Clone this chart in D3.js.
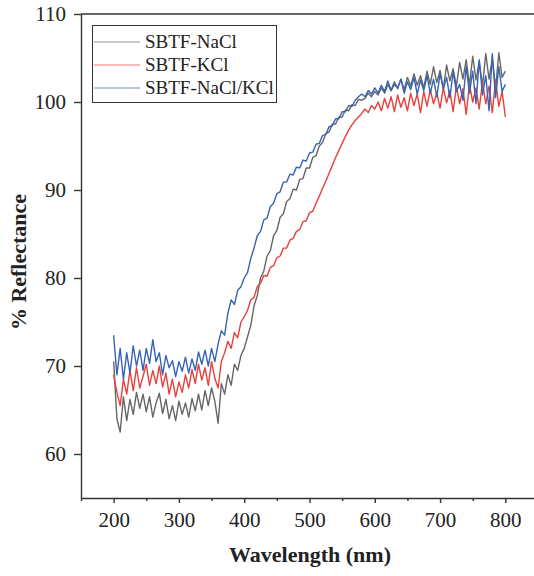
<!DOCTYPE html>
<html>
<head>
<meta charset="utf-8">
<script src="https://cdn.jsdelivr.net/npm/d3@7"></script>
<style>
  body { margin: 0; background: #fff; }
  svg { display: block; }
  .axis text { font-family: "Liberation Serif", "Times New Roman", serif; font-size: 21px; fill: #222; }
  .axis path, .axis line { stroke: #333; stroke-width: 1.4; }
  .title { font-family: "Liberation Serif", "Times New Roman", serif; font-size: 22px; font-weight: bold; fill: #222; }
  .legend text { font-family: "Liberation Serif", "Times New Roman", serif; font-size: 19px; fill: #222; }
</style>
</head>
<body>
<div id="chart"></div>
<script>
// wavelength grid (nm), one reading every 5 nm
var wavelengths = d3.range(200, 801, 5);

var seriesNames = ["SBTF-NaCl", "SBTF-KCl", "SBTF-NaCl/KCl"];
var seriesColors = ["#666666", "#e8403d", "#3663b3"];

var nacl = [
  70.5, 64.0, 62.5, 66.5, 63.8, 66.2, 64.5, 67.0, 65.2, 66.8,
  64.8, 66.5, 64.2, 65.8, 66.9, 64.6, 66.2, 64.0, 65.5, 63.8,
  66.0, 64.5, 65.8, 64.2, 66.3, 64.9, 66.8, 65.0, 67.2, 65.5,
  67.5, 66.0, 63.5, 68.0, 66.8, 69.0, 67.8, 70.2, 69.5, 71.2,
  72.0, 73.3, 74.6, 76.8, 78.0, 80.0, 80.8, 82.5, 83.1, 84.8,
  85.4, 86.9, 87.3, 88.7, 89.0, 90.1, 90.0, 91.2, 91.3, 92.5,
  92.5, 93.7, 93.9, 95.0, 95.4, 96.4, 96.6, 97.5, 97.5, 98.3,
  98.3, 99.1, 99.0, 99.7, 99.6, 100.3, 100.2, 100.4, 101.0, 100.6,
  101.2, 100.8, 101.6, 101.0, 102.0, 101.3, 102.3, 101.5, 102.6, 101.4,
  102.8, 101.8, 103.2, 101.9, 103.0, 101.6, 103.5, 102.0, 104.0, 102.2,
  103.6, 101.5, 104.2, 102.4, 103.8, 101.8, 104.5, 102.6, 104.8, 101.9,
  105.2, 102.5, 104.6, 101.8, 105.5, 102.6, 104.9, 101.5, 105.6, 102.8,
  103.5
];

var kcl = [
  69.0, 67.0, 65.5, 68.5, 66.8, 69.5, 67.2, 69.8, 67.5, 68.8,
  70.2, 67.8, 69.5, 68.0, 70.0, 67.6, 69.2, 66.8, 68.5, 66.5,
  68.2, 67.0, 69.0, 67.5, 69.6, 68.0, 70.2, 68.4, 69.8, 67.8,
  70.5, 68.6, 67.5, 70.5, 71.5, 72.8, 72.0, 73.8, 73.2, 75.0,
  75.6, 76.3, 77.5, 77.8, 79.0, 79.4, 80.3, 80.2, 81.2, 81.4,
  82.3, 82.5, 83.4, 83.4, 84.3, 84.5, 85.3, 85.5, 86.4, 86.5,
  87.4, 87.6, 88.5, 89.3, 90.2, 91.0, 91.9, 92.8, 93.7, 94.5,
  95.3, 96.1, 96.8, 97.4, 97.9, 98.3, 98.7, 99.2, 98.8, 99.6,
  99.2, 100.0, 99.0, 100.4, 99.3, 100.6, 98.9, 100.8, 99.4, 100.5,
  99.0, 101.0, 99.6, 100.9, 98.8, 101.2, 99.5, 101.4, 99.8, 101.0,
  99.3, 101.6, 99.9, 101.3, 98.9, 101.8, 99.8, 101.5, 98.6, 102.0,
  100.0, 101.6, 99.2, 102.3, 99.8, 101.8, 98.8, 102.5, 99.5, 101.2,
  98.3
];

var naclKcl = [
  73.5, 69.0, 72.0, 68.5, 71.5, 69.2, 72.3, 70.0, 71.8, 69.5,
  72.0, 70.3, 73.0, 70.5, 71.5, 69.0, 71.2, 69.8, 70.6, 68.8,
  70.5, 69.4, 71.0, 69.2, 70.8, 69.5, 71.6, 70.2, 71.8, 70.0,
  72.0, 70.5, 72.5, 74.0, 73.5, 76.0, 77.5, 77.0, 78.6, 79.0,
  80.0, 80.6, 82.2, 83.4, 84.8, 85.3, 86.6, 86.8, 88.1, 88.5,
  89.6, 89.8, 90.9, 90.9, 91.8, 91.7, 92.6, 92.5, 93.4, 93.3,
  94.2, 94.3, 95.2, 95.3, 96.2, 96.3, 97.2, 97.3, 98.1, 98.1,
  98.9, 98.9, 99.6, 99.5, 100.2, 100.6, 100.9, 100.6, 101.3, 100.9,
  101.6, 101.0, 101.9, 101.2, 102.4, 101.3, 102.0, 101.6, 102.6, 101.0,
  102.3, 101.4, 102.8, 100.9, 102.5, 101.3, 103.0, 101.0, 102.6, 100.6,
  103.2, 101.5, 102.8, 100.5, 103.4, 101.2, 102.0, 100.2, 104.0, 101.0,
  103.5, 99.8, 104.8, 100.8, 103.0, 99.0, 105.5, 100.5, 104.0, 101.2,
  102.0
];

var xTicks = [200, 300, 400, 500, 600, 700, 800];
var xMinorTicks = [150, 250, 350, 450, 550, 650, 750];
var yTicks = [60, 70, 80, 90, 100, 110];

var width = 534, height = 576;
var margin = {top: 14, left: 81, bottom: 78};

var x = d3.scaleLinear()
    .domain([150, 850])
    .range([margin.left, 538]);

var y = d3.scaleLinear()
    .domain([55, 110])
    .range([height - margin.bottom, margin.top]);

var svg = d3.select("#chart").append("svg")
    .attr("width", width)
    .attr("height", height);

// top frame line
svg.append("line")
    .attr("x1", x(150)).attr("x2", x(850))
    .attr("y1", y(110)).attr("y2", y(110))
    .attr("stroke", "#333").attr("stroke-width", 1.4);

var line = d3.line()
    .x(function(d, i) { return x(wavelengths[i]); })
    .y(function(d) { return y(d); });

[nacl, kcl, naclKcl].forEach(function(s, k) {
  svg.append("path")
      .datum(s)
      .attr("fill", "none")
      .attr("stroke", seriesColors[k])
      .attr("stroke-width", 1.4)
      .attr("stroke-linejoin", "round")
      .attr("d", line);
});

// minor x ticks
svg.append("g")
    .attr("class", "axis")
    .attr("transform", "translate(0," + y(55) + ")")
    .call(d3.axisBottom(x).tickValues(xMinorTicks).tickSize(3).tickFormat(""))
    .select(".domain").remove();

svg.append("g")
    .attr("class", "axis")
    .attr("transform", "translate(0," + y(55) + ")")
    .call(d3.axisBottom(x).tickValues(xTicks).tickSizeInner(5).tickSizeOuter(0).tickPadding(9));

svg.append("g")
    .attr("class", "axis")
    .attr("transform", "translate(" + x(150) + ",0)")
    .call(d3.axisLeft(y).tickValues(yTicks).tickSizeInner(7).tickSizeOuter(0).tickPadding(8));

svg.append("text")
    .attr("class", "title")
    .attr("x", 310)
    .attr("y", 562)
    .attr("text-anchor", "middle")
    .text("Wavelength (nm)");

svg.append("text")
    .attr("class", "title")
    .attr("transform", "translate(26,262) rotate(-90)")
    .attr("text-anchor", "middle")
    .text("% Reflectance");

// legend
var legend = svg.append("g").attr("class", "legend");
legend.append("rect")
    .attr("x", 92.5).attr("y", 25.5)
    .attr("width", 184).attr("height", 77)
    .attr("fill", "#fff")
    .attr("stroke", "#333").attr("stroke-width", 1);

seriesNames.forEach(function(name, i) {
  var yy = 42 + i * 23;
  legend.append("line")
      .attr("x1", 94).attr("x2", 140)
      .attr("y1", yy).attr("y2", yy)
      .attr("stroke", seriesColors[i])
      .attr("stroke-opacity", 0.7)
      .attr("stroke-width", 1.2);
  legend.append("text")
      .attr("x", 145)
      .attr("y", yy + 6)
      .text(name);
});
</script>
</body>
</html>
